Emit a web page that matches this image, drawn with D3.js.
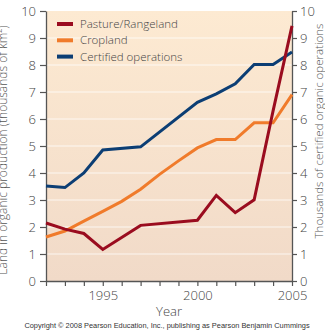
<!DOCTYPE html>
<html><head><meta charset="utf-8">
<script src="https://cdn.jsdelivr.net/npm/d3@7"></script>
<style>
html,body{margin:0;padding:0;background:#fff;}
svg{display:block;}
</style></head>
<body>
<svg id="c" width="325" height="332"></svg>
<script>
const pastureYears = [1992,1993,1994,1995,1997,2000,2001,2002,2003,2004,2005];
const pastureValues = [2.15,1.92,1.76,1.17,2.06,2.25,3.17,2.53,3.01,6.3,9.45];
const croplandYears = [1992,1993,1994,1995,1996,1997,1998,1999,2000,2001,2002,2003,2004,2005];
const croplandValues = [1.63,1.85,2.22,2.58,2.95,3.4,3.95,4.45,4.93,5.24,5.24,5.86,5.86,6.9];
const certifiedYears = [1992,1993,1994,1995,1997,2000,2001,2002,2003,2004,2005];
const certifiedValues = [3.52,3.46,4.0,4.85,4.97,6.62,6.93,7.3,8.02,8.02,8.48];
const seriesNames = ["Pasture/Rangeland","Cropland","Certified operations"];
const seriesColors = ["#9a0c1f","#f07b2b","#0c3e74"];
const yTicks = [0,1,2,3,4,5,6,7,8,9,10];
const xTickLabels = [1995,2000,2005];

const svg = d3.select("#c");
const L=46,R=292,T=11,B=281;
const x = d3.scaleLinear().domain([1992,2005]).range([L,R]);
const y = d3.scaleLinear().domain([0,10]).range([B,T]);

const defs = svg.append("defs");
const g = defs.append("linearGradient").attr("id","bg").attr("x1",0).attr("x2",0).attr("y1",0).attr("y2",1);
g.append("stop").attr("offset","0%").attr("stop-color","#fdead2");
g.append("stop").attr("offset","100%").attr("stop-color","#f1dac8");
svg.append("rect").attr("x",L).attr("y",T).attr("width",R-L).attr("height",B-T).attr("fill","url(#bg)");

// gridlines
svg.append("g").selectAll("line").data(yTicks.filter(d=>d>0&&d<10)).join("line")
  .attr("x1",L).attr("x2",R).attr("y1",d=>y(d)).attr("y2",d=>y(d))
  .attr("stroke","#fff").attr("stroke-opacity",0.75).attr("stroke-width",1.2);

const font = "'Open Sans', sans-serif";
const axColor = "#555";
function styleAxis(sel){
  sel.select(".domain").attr("stroke",axColor).attr("stroke-width",1.3);
  sel.selectAll(".tick line").attr("stroke",axColor).attr("stroke-width",1.2);
  sel.selectAll("text").attr("fill","#444").style("font-family",font).style("font-size","13px").style("font-weight","300");
}
const yl = svg.append("g").attr("transform",`translate(${L},0)`)
  .call(d3.axisLeft(y).tickValues(yTicks).tickSize(6).tickSizeOuter(0).tickPadding(4));
styleAxis(yl);
const yr = svg.append("g").attr("transform",`translate(${R},0)`)
  .call(d3.axisRight(y).tickValues(yTicks).tickSize(5).tickSizeOuter(0).tickPadding(3));
styleAxis(yr);
const xa = svg.append("g").attr("transform",`translate(0,${B})`)
  .call(d3.axisBottom(x).tickValues(d3.range(1992,2006)).tickSize(5).tickSizeOuter(0).tickPadding(5)
    .tickFormat(d=>xTickLabels.includes(d)?String(d):""));
styleAxis(xa);

// lines
const line = d3.line().x(d=>x(d[0])).y(d=>y(d[1]));
const data = [
  d3.zip(pastureYears,pastureValues),
  d3.zip(croplandYears,croplandValues),
  d3.zip(certifiedYears,certifiedValues)
];
const order=[2,1,0];
order.forEach(i=>{
  svg.append("path").datum(data[i]).attr("d",line).attr("fill","none")
    .attr("stroke",seriesColors[i]).attr("stroke-width",3).attr("stroke-linejoin","miter");
});

// legend
const lg = svg.append("g");
seriesNames.forEach((n,i)=>{
  const yy = 24 + i*16.3;
  lg.append("line").attr("x1",57).attr("x2",73).attr("y1",yy).attr("y2",yy)
    .attr("stroke",seriesColors[i]).attr("stroke-width",4);
  lg.append("text").attr("x",80).attr("y",yy+4).text(n)
    .attr("fill","#444").style("font-family",font).style("font-size","11.5px").style("font-weight","300");
});

// titles
svg.append("text").attr("x",(L+R)/2).attr("y",316).attr("text-anchor","middle").text("Year")
  .attr("fill","#444").style("font-family",font).style("font-size","13px").style("font-weight","300");
svg.append("text").attr("transform","translate(7,150) rotate(-90)").attr("text-anchor","middle")
  .text("Land in organic production (thousands of km²)")
  .attr("fill","#555").style("font-family",font).style("font-size","12px").style("font-weight","300");
svg.append("text").attr("transform","translate(323,131) rotate(-90)").attr("text-anchor","middle")
  .text("Thousands of certified organic operations")
  .attr("fill","#555").style("font-family",font).style("font-size","11.5px").style("font-weight","300");
svg.append("text").attr("x",167).attr("y",327.5).attr("text-anchor","middle")
  .text("Copyright © 2008 Pearson Education, Inc., publishing as Pearson Benjamin Cummings")
  .attr("fill","#333").style("font-family","'Liberation Sans', Arial, sans-serif").style("font-size","7.4px");
</script>
</body></html>
